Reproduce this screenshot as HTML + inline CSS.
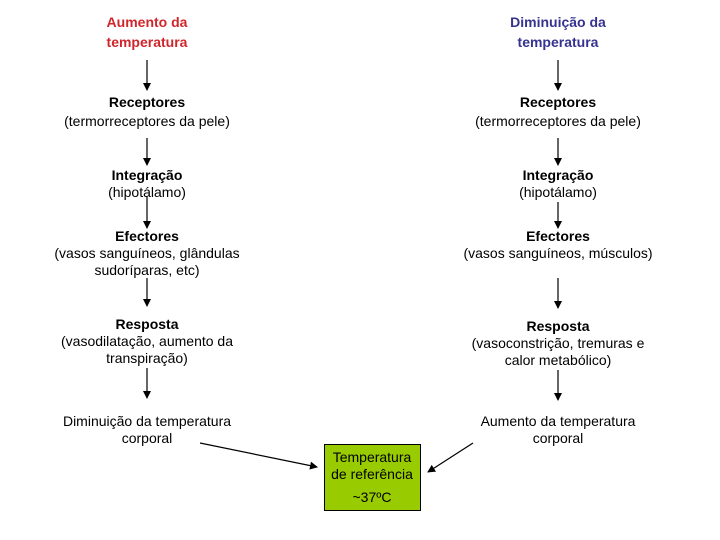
<!DOCTYPE html>
<html><head><meta charset="utf-8"><style>
body{margin:0;width:720px;height:540px;background:#fff;position:relative;overflow:hidden;font-family:"Liberation Sans",sans-serif;font-size:14px;color:#000}
.t{position:absolute;width:300px;text-align:center;line-height:17px;white-space:nowrap}
.L{left:-3px}.R{left:408px}
b{font-weight:bold}
.red{color:#d0262b;line-height:20px}.blue{color:#35338f;line-height:20px}
</style></head><body>
<svg width="720" height="540" style="position:absolute;left:0;top:0">
<defs><marker id="a" markerWidth="8" markerHeight="8" refX="7" refY="4" orient="auto" markerUnits="userSpaceOnUse"><path d="M0,0 L8,4 L0,8 z" fill="#000"/></marker></defs>
<g stroke="#000" stroke-width="1.2" marker-end="url(#a)">
<line x1="147" y1="60" x2="147" y2="90"/>
<line x1="147" y1="138" x2="147" y2="165"/>
<line x1="147" y1="196" x2="147" y2="228"/>
<line x1="147" y1="278" x2="147" y2="306"/>
<line x1="147" y1="368" x2="147" y2="398"/>
<line x1="558" y1="60" x2="558" y2="90"/>
<line x1="558" y1="138" x2="558" y2="165"/>
<line x1="558" y1="202" x2="558" y2="228"/>
<line x1="558" y1="278" x2="558" y2="308"/>
<line x1="558" y1="370" x2="558" y2="400"/>
<line x1="200" y1="443" x2="317" y2="467"/>
<line x1="473" y1="443" x2="428" y2="472"/>
</g>
<rect x="324.5" y="444.5" width="96" height="66" fill="#99cc00" stroke="#000" stroke-width="1"/>
</svg>
<div class="t L red" style="top:12px"><b>Aumento da<br>temperatura</b></div>
<div class="t R blue" style="top:12px"><b>Diminuição da<br>temperatura</b></div>
<div class="t L" style="top:94px"><b>Receptores</b><br><span style="line-height:21px">(termorreceptores da pele)</span></div>
<div class="t R" style="top:94px"><b>Receptores</b><br><span style="line-height:21px">(termorreceptores da pele)</span></div>
<div class="t L" style="top:167px"><b>Integração</b><br>(hipotálamo)</div>
<div class="t R" style="top:167px"><b>Integração</b><br>(hipotálamo)</div>
<div class="t L" style="top:228px"><b>Efectores</b><br>(vasos sanguíneos, glândulas<br>sudoríparas, etc)</div>
<div class="t R" style="top:228px"><b>Efectores</b><br>(vasos sanguíneos, músculos)</div>
<div class="t L" style="top:316px"><b>Resposta</b><br>(vasodilatação, aumento da<br>transpiração)</div>
<div class="t R" style="top:318px"><b>Resposta</b><br>(vasoconstrição, tremuras e<br>calor metabólico)</div>
<div class="t L" style="top:413px">Diminuição da temperatura<br>corporal</div>
<div class="t R" style="top:413px">Aumento da temperatura<br>corporal</div>
<div class="t" style="left:222px;top:449px">Temperatura<br>de referência</div>
<div class="t" style="left:222px;top:489px">~37ºC</div>
</body></html>
